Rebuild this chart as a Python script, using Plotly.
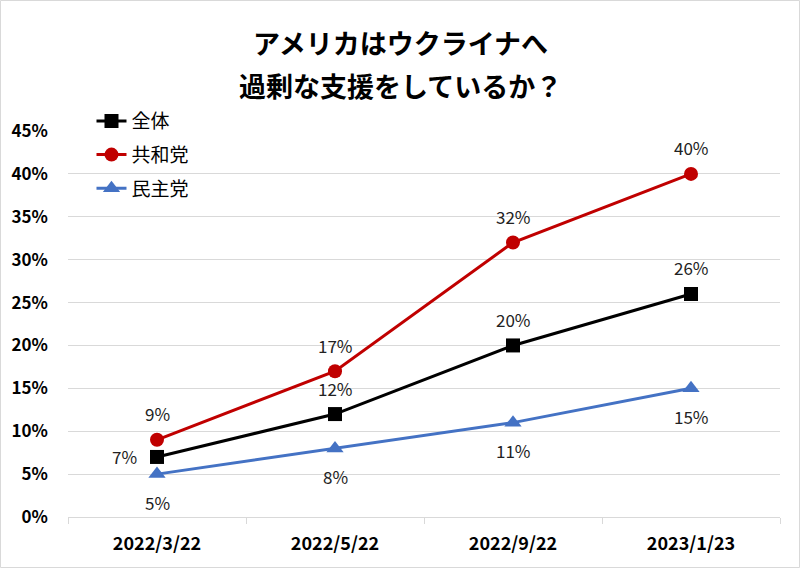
import plotly.graph_objects as go

categories = ["2022/3/22", "2022/5/22", "2022/9/22", "2023/1/23"]
zentai = [7, 12, 20, 26]
kyowa = [9, 17, 32, 40]
minshu = [5, 8, 11, 15]
y_ticks = [0, 5, 10, 15, 20, 25, 30, 35, 40, 45]
y_tick_labels = [f"{v}%" for v in y_ticks]
title_lines = ["アメリカはウクライナへ", "過剰な支援をしているか？"]

FONT = "Noto Sans CJK JP"
BLACK = "#000000"
RED = "#C00000"
BLUE = "#4472C4"

fig = go.Figure()
series = [
    ("全体", zentai, BLACK, "square", 14),
    ("共和党", kyowa, RED, "circle", 14),
    ("民主党", minshu, BLUE, "triangle-up", 15),
]
for i, (name, vals, col, sym, sz) in enumerate(series):
    fig.add_trace(go.Scatter(
        x=categories, y=vals, name=name, mode="lines+markers",
        line=dict(color=col, width=3),
        marker=dict(symbol=sym, size=sz, color=col),
        legendgroup=f"g{i}",
    ))

LBL = dict(size=17, color="#222", family=FONT)
annotations = []
for j, c in enumerate(categories):
    if j == 0:
        annotations.append(dict(x=c, y=zentai[j], text=f"{zentai[j]}%", xshift=-33, yshift=0,
                                showarrow=False, font=LBL))
    else:
        annotations.append(dict(x=c, y=zentai[j], text=f"{zentai[j]}%", yshift=26,
                                showarrow=False, font=LBL))
    annotations.append(dict(x=c, y=kyowa[j], text=f"{kyowa[j]}%", yshift=26,
                            showarrow=False, font=LBL))
    annotations.append(dict(x=c, y=minshu[j], text=f"{minshu[j]}%", yshift=-28,
                            showarrow=False, font=LBL))

annotations.append(dict(xref="paper", yref="paper", x=(400 - 68) / 712, y=(517 - 42) / 386, text=f"<b>{title_lines[0]}</b>",
                        showarrow=False, yanchor="middle", font=dict(size=27, color="#000", family=FONT)))
annotations.append(dict(xref="paper", yref="paper", x=(400 - 68) / 712, y=(517 - 85) / 386, text=f"<b>{title_lines[1]}</b>",
                        showarrow=False, yanchor="middle", font=dict(size=27, color="#000", family=FONT)))

fig.update_layout(
    width=800, height=568,
    margin=dict(l=68, r=20, t=131, b=51),
    paper_bgcolor="white", plot_bgcolor="white",
    showlegend=True,
    legend=dict(x=0.033, y=1.075, xanchor="left", yanchor="top",
                font=dict(size=19, color="#000", family=FONT),
                traceorder="grouped", tracegroupgap=6,
                bgcolor="rgba(0,0,0,0)"),
    annotations=annotations,
    xaxis=dict(type="category", showgrid=False, showline=True, linecolor="#d9d9d9", linewidth=1,
               ticks="outside", tickson="boundaries", ticklen=6, tickcolor="#d9d9d9",
               tickfont=dict(size=18, color="#000", family=FONT), tickprefix="<b>", ticksuffix="</b>",
               ticklabelstandoff=10,
               range=[-0.5, 3.5], fixedrange=True),
    yaxis=dict(range=[0, 45], tickvals=y_ticks, ticktext=[f"<b>{t}</b>" for t in y_tick_labels],
               showgrid=True, gridcolor="#d9d9d9", gridwidth=1, zeroline=False, showline=False,
               tickfont=dict(size=17, color="#000", family=FONT), ticklabelstandoff=19,
               fixedrange=True),
    shapes=[dict(type="rect", xref="paper", yref="paper", x0=-67.5/712, x1=1 + 19.5/712,
                 y0=-50.5/386, y1=1 + 130.5/386, line=dict(color="#d9d9d9", width=1))],
)

fig.write_html("out.html", config={"displayModeBar": False},
               post_script="document.body.style.margin='0';document.body.style.padding='0';")
